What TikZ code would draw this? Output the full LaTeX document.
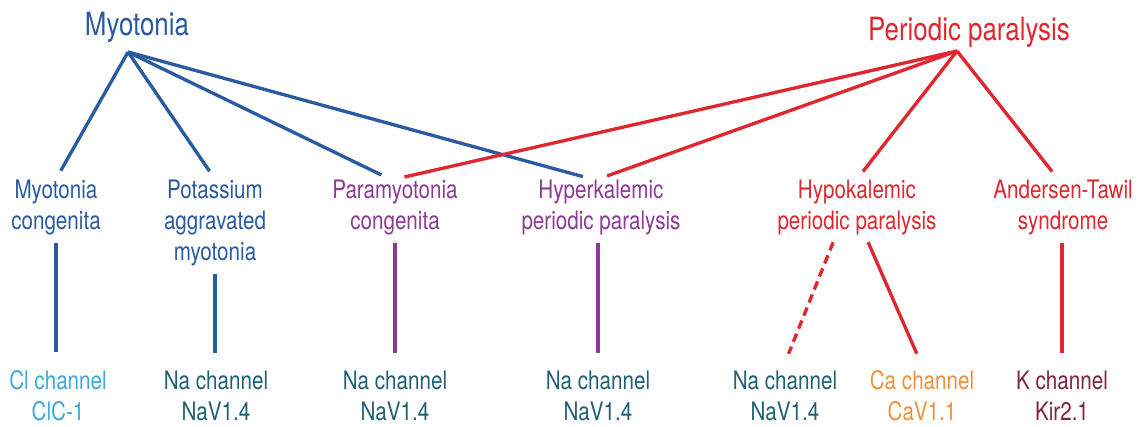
\documentclass[tikz,border=0pt]{standalone}
\usepackage{fontspec}
\setmainfont{TeX Gyre Heros}[FakeStretch=0.81]
\usetikzlibrary{positioning}

\definecolor{myoblue}{RGB}{42,90,160}
\definecolor{ppred}{RGB}{224,38,47}
\definecolor{pmpurple}{RGB}{139,58,150}
\definecolor{clcyan}{RGB}{63,169,217}
\definecolor{nateal}{RGB}{31,96,117}
\definecolor{caorange}{RGB}{240,145,58}
\definecolor{kmaroon}{RGB}{126,36,64}

\tikzset{
	title/.style={font=\fontsize{18.2}{20}\selectfont,inner sep=0pt,anchor=base},
	disease/.style={font=\fontsize{14.5}{17.6}\selectfont,align=center,inner sep=0pt,anchor=base},
	channel/.style={font=\fontsize{14.5}{17.6}\selectfont,align=center,inner sep=0pt,anchor=base},
	headlink/.style={line width=1.9pt,shorten >=5.5pt},
	link/.style={line width=1.9pt,shorten <=4.5pt,shorten >=10pt}
}

\begin{document}
\begin{tikzpicture}[x=0.02cm,y=-0.02cm]
	\useasboundingbox (0,0) rectangle (1145,426);

	% group headings
	\node[title,myoblue] (myo) at (137,35) {Myotonia};
	\node[title,ppred] (pp) at (969,40) {Periodic paralysis};
	\coordinate (myotip) at (128,52);
	\coordinate (pptip) at (957,51);

	% diseases (base = last line)
	\node[disease,myoblue] (mc) at (56,229) {Myotonia\\congenita};
	\node[disease,myoblue] (pam) at (215,260) {Potassium\\aggravated\\myotonia};
	\node[disease,pmpurple] (pmc) at (395,229) {Paramyotonia\\congenita};
	\node[disease,pmpurple] (hyper) at (601,229) {Hyperkalemic\\periodic paralysis};
	\node[disease,ppred] (hypo) at (857,229) {Hypokalemic\\periodic paralysis};
	\node[disease,ppred] (ats) at (1063,229) {Andersen-Tawil\\syndrome};

	% channels
	\node[channel,clcyan] (cl) at (58,420) {Cl channel\\ClC-1};
	\node[channel,nateal] (na1) at (216,420) {Na channel\\NaV1.4};
	\node[channel,nateal] (na2) at (395,420) {Na channel\\NaV1.4};
	\node[channel,nateal] (na3) at (598,420) {Na channel\\NaV1.4};
	\node[channel,nateal] (na4) at (785,420) {Na channel\\NaV1.4};
	\node[channel,caorange] (ca) at (922,420) {Ca channel\\CaV1.1};
	\node[channel,kmaroon] (k) at (1062,420) {K channel\\Kir2.1};

	% heading to disease
	\draw[headlink,myoblue] (myotip) -- (mc.north);
	\draw[headlink,myoblue] (myotip) -- (pam.north);
	\draw[headlink,myoblue] (myotip) -- ([xshift=-2.8pt]pmc.north);
	\draw[headlink,myoblue] (myotip) -- ([xshift=-5pt]hyper.north);
	\draw[headlink,ppred] (pptip) -- (pmc.north);
	\draw[headlink,ppred] (pptip) -- ([xshift=-1.7pt]hyper.north);
	\draw[headlink,ppred] (pptip) -- (hypo.north);
	\draw[headlink,ppred] (pptip) -- ([xshift=-2.8pt]ats.north);

	% disease to channel
	\draw[link,myoblue] (mc.south) -- (cl.north -| mc.south);
	\draw[link,myoblue] (pam.south) -- (na1.north -| pam.south);
	\draw[link,pmpurple] (pmc.south -| na2) -- (na2.north);
	\draw[link,pmpurple] (hyper.south -| na3) -- (na3.north);
	\draw[link,ppred,dash pattern=on 5pt off 3pt] ([xshift=-11.9pt]hypo.south) -- ([xshift=-1.7pt]na4.north);
	\draw[link,ppred] ([xshift=4.5pt]hypo.south) -- ([xshift=1pt]ca.north);
	\draw[link,ppred] (ats.south -| k) -- (k.north);
\end{tikzpicture}
\end{document}
